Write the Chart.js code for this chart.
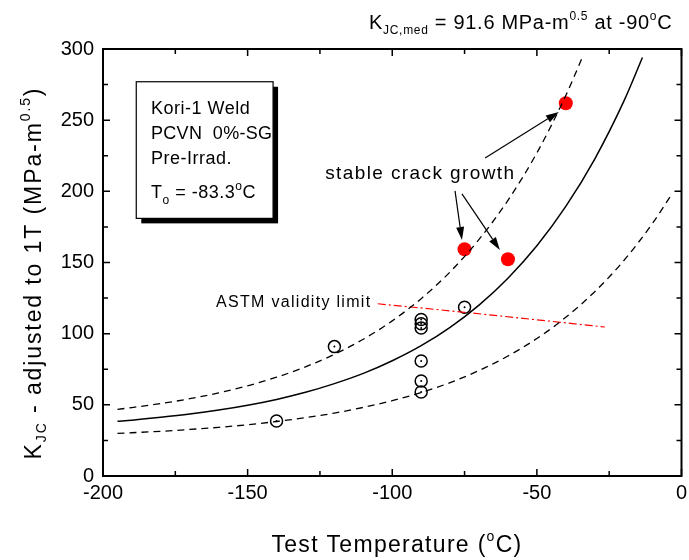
<!DOCTYPE html>
<html>
<head>
<meta charset="utf-8">
<script src="https://cdn.jsdelivr.net/npm/chart.js@4.4.0/dist/chart.umd.min.js"></script>
<style>
  html, body { margin: 0; padding: 0; background: #fff; }
  #wrap { width: 689px; height: 560px; }
</style>
</head>
<body>
<div id="wrap"><canvas id="chart" width="689" height="560"></canvas></div>
<script>
// master curve, median
const medT = [-195, -190, -180, -170, -160, -150, -140, -130, -120, -110, -100, -90, -80, -70, -60, -50, -40, -30, -20, -13.5];
const medK = [38.4, 39.2, 41.2, 43.5, 46.3, 49.7, 53.8, 58.8, 64.9, 72.1, 81.0, 91.6, 104.5, 120.1, 139.0, 161.8, 189.4, 222.7, 263.0, 294];
// upper (95%) bound
const upT = [-195, -190, -180, -170, -160, -150, -140, -130, -120, -110, -100, -90, -80, -70, -60, -50, -40, -34.3];
const upK = [46.8, 48.1, 50.9, 54.3, 58.4, 63.4, 69.4, 76.7, 85.5, 96.1, 109.0, 124.6, 143.4, 166.2, 193.7, 227.0, 267.3, 294];
// lower (5%) bound
const lowT = [-195, -190, -180, -170, -160, -150, -140, -130, -120, -110, -100, -90, -80, -70, -60, -50, -40, -30, -20, -10, -3.8];
const lowK = [29.9, 30.4, 31.4, 32.7, 34.2, 36.0, 38.3, 41.0, 44.2, 48.2, 52.9, 58.7, 65.6, 74.1, 84.3, 96.6, 111.5, 129.5, 151.2, 177.6, 196.6];
// ASTM validity limit
const limT = [-105, -75, -26.5];
const limK = [121, 115, 104.7];
// test data
const openT = [-140, -120, -90, -90, -90, -90, -90, -90, -75];
const openK = [38.7, 90.9, 110, 107, 104, 80.8, 66.8, 59, 118.5];
const redT = [-75, -60, -40];
const redK = [159.3, 152.3, 261.9];

const xTicks = [-200, -150, -100, -50, 0];
const yTicks = [0, 50, 100, 150, 200, 250, 300];

const FONT = 'Liberation Sans, Arial, sans-serif';
const pts = (xs, ys) => xs.map((x, i) => ({ x, y: ys[i] }));

function richText(ctx, x, y, parts, align, spacing) {
  let w = 0;
  parts.forEach(p => {
    ctx.font = p.size + 'px ' + FONT;
    ctx.letterSpacing = (spacing || 0) + 'px';
    p.w = ctx.measureText(p.t).width;
    w += p.w;
  });
  let cx = align === 'center' ? x - w / 2 : (align === 'right' ? x - w : x);
  parts.forEach(p => {
    ctx.font = p.size + 'px ' + FONT;
    ctx.letterSpacing = (spacing || 0) + 'px';
    ctx.fillText(p.t, cx, y + (p.dy || 0));
    cx += p.w;
  });
  ctx.letterSpacing = '0px';
}

function arrow(ctx, x1, y1, x2, y2) {
  const a = Math.atan2(y2 - y1, x2 - x1);
  const L = 13, W = 4;
  ctx.beginPath();
  ctx.moveTo(x1, y1);
  ctx.lineTo(x2 - L * Math.cos(a), y2 - L * Math.sin(a));
  ctx.stroke();
  ctx.beginPath();
  ctx.moveTo(x2, y2);
  ctx.lineTo(x2 - L * Math.cos(a) + W * Math.sin(a), y2 - L * Math.sin(a) - W * Math.cos(a));
  ctx.lineTo(x2 - L * Math.cos(a) - W * Math.sin(a), y2 - L * Math.sin(a) + W * Math.cos(a));
  ctx.closePath();
  ctx.fill();
}

const decor = {
  id: 'decor',
  afterDatasetsDraw(chart) {
    const { ctx, chartArea: a, scales: { x, y } } = chart;
    const X = v => x.getPixelForValue(v), Y = v => y.getPixelForValue(v);
    ctx.save();
    ctx.fillStyle = '#000';
    ctx.strokeStyle = '#000';

    // frame
    ctx.lineWidth = 2;
    ctx.strokeRect(a.left, a.top, a.right - a.left, a.bottom - a.top);

    // inward ticks on all sides
    ctx.lineWidth = 1.5;
    ctx.beginPath();
    for (let v = -200; v <= 0; v += 25) {
      const len = v % 50 === 0 ? 7 : 5;
      const px = X(v);
      ctx.moveTo(px, a.bottom); ctx.lineTo(px, a.bottom - len);
      ctx.moveTo(px, a.top); ctx.lineTo(px, a.top + len);
    }
    for (let v = 0; v <= 300; v += 25) {
      const len = v % 50 === 0 ? 7 : 5;
      const py = Y(v);
      ctx.moveTo(a.left, py); ctx.lineTo(a.left + len, py);
      ctx.moveTo(a.right, py); ctx.lineTo(a.right - len, py);
    }
    ctx.stroke();

    // info box with shadow
    const bx1 = X(-188.5), by1 = Y(277), bx2 = X(-141.2), by2 = Y(181);
    ctx.fillRect(bx1 + 5, by1 + 5, bx2 - bx1, by2 - by1);
    ctx.fillStyle = '#fff';
    ctx.fillRect(bx1, by1, bx2 - bx1, by2 - by1);
    ctx.fillStyle = '#000';
    ctx.lineWidth = 1.2;
    ctx.strokeRect(bx1, by1, bx2 - bx1, by2 - by1);

    ctx.textBaseline = 'alphabetic';
    const tx = X(-183.4);
    richText(ctx, tx, Y(254), [{ t: 'Kori-1 Weld', size: 18 }], 'left', 0.5);
    richText(ctx, tx, Y(236.5), [{ t: 'PCVN  0%-SG', size: 18 }], 'left', 0.3);
    richText(ctx, tx, Y(219), [{ t: 'Pre-Irrad.', size: 18 }], 'left', 0.5);
    richText(ctx, tx, Y(195), [
      { t: 'T', size: 18 }, { t: 'o', size: 12, dy: 6 }, { t: ' = -83.3', size: 18 },
      { t: 'o', size: 12, dy: -8 }, { t: 'C', size: 18 }
    ], 'left', 0.5);

    // annotation
    richText(ctx, X(-90.3), Y(208.5), [{ t: 'stable crack growth', size: 19 }], 'center', 1.4);
    ctx.lineWidth = 1.2;
    arrow(ctx, X(-67.9), Y(223.5), X(-42.4), Y(255.8));
    arrow(ctx, X(-78.3), Y(200.3), X(-75.9), Y(165.8));
    arrow(ctx, X(-75.9), Y(198.2), X(-62.8), Y(158.8));

    richText(ctx, X(-107.2), Y(118.8), [{ t: 'ASTM validity limit', size: 16 }], 'right', 1.3);

    // title
    richText(ctx, 369, 29, [
      { t: 'K', size: 20 }, { t: 'JC,med', size: 12, dy: 5 }, { t: ' = 91.6 MPa-m', size: 20 },
      { t: '0.5', size: 12, dy: -9 }, { t: ' at -90', size: 20 }, { t: 'o', size: 12, dy: -9 }, { t: 'C', size: 20 }
    ], 'left', 0.7);

    // x axis title
    richText(ctx, 397, 552, [
      { t: 'Test Temperature (', size: 23 }, { t: 'o', size: 14, dy: -11 }, { t: 'C)', size: 23 }
    ], 'center', 1.3);

    // y axis title
    ctx.translate(41, 273);
    ctx.rotate(-Math.PI / 2);
    richText(ctx, 0, 0, [
      { t: 'K', size: 23 }, { t: 'JC', size: 14, dy: 5 }, { t: ' - adjusted to 1T (MPa-m', size: 23 },
      { t: '0.5', size: 14, dy: -11 }, { t: ')', size: 23 }
    ], 'center', 1.9);
    ctx.restore();
  }
};

const tickFont = { family: FONT, size: 20 };

new Chart(document.getElementById('chart'), {
  type: 'scatter',
  data: {
    datasets: [
      { data: pts(medT, medK), showLine: true, borderColor: '#000', borderWidth: 1.5, pointRadius: 0, cubicInterpolationMode: 'monotone' },
      { data: pts(upT, upK), showLine: true, borderColor: '#000', borderWidth: 1.3, borderDash: [7, 5], pointRadius: 0, cubicInterpolationMode: 'monotone' },
      { data: pts(lowT, lowK), showLine: true, borderColor: '#000', borderWidth: 1.3, borderDash: [7, 5], pointRadius: 0, cubicInterpolationMode: 'monotone' },
      { data: pts(limT, limK), showLine: true, borderColor: '#ff0000', borderWidth: 1.2, borderDash: [8, 3, 2, 3], pointRadius: 0, cubicInterpolationMode: 'monotone' },
      { data: pts(openT, openK), pointRadius: 6, pointBorderWidth: 1.5, pointBorderColor: '#000', pointBackgroundColor: 'rgba(0,0,0,0)' },
      { data: pts(openT, openK), pointRadius: 1, pointBorderWidth: 0, pointBackgroundColor: '#000' },
      { data: pts(redT, redK), pointRadius: 7, pointBorderWidth: 0, pointBackgroundColor: '#ff0000' }
    ]
  },
  options: {
    responsive: false,
    animation: false,
    devicePixelRatio: 1,
    layout: { padding: { top: 49, right: 6, left: 0, bottom: 0 } },
    plugins: { legend: { display: false }, tooltip: { enabled: false } },
    scales: {
      x: {
        type: 'linear', min: -200, max: 0,
        afterBuildTicks: s => { s.ticks = xTicks.map(v => ({ value: v })); },
        ticks: { color: '#000', font: tickFont, padding: 5 },
        grid: { display: false, drawTicks: false },
        border: { display: false },
        afterFit: s => { s.height = 84; s.paddingLeft = 0; s.paddingRight = 0; }
      },
      y: {
        type: 'linear', min: 0, max: 300,
        afterBuildTicks: s => { s.ticks = yTicks.map(v => ({ value: v })); },
        ticks: { color: '#000', font: tickFont, padding: 9 },
        grid: { display: false, drawTicks: false },
        border: { display: false },
        afterFit: s => { s.width = 103; s.paddingTop = 0; s.paddingBottom = 0; }
      }
    }
  },
  plugins: [decor]
});
</script>
</body>
</html>
